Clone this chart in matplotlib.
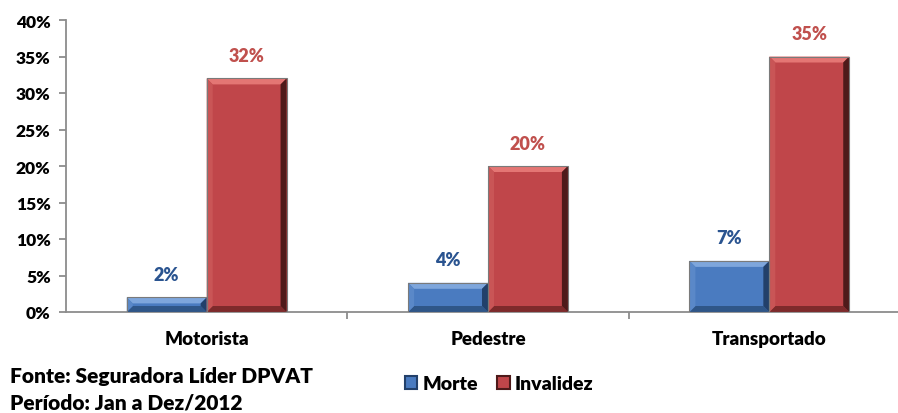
import numpy as np
import matplotlib.pyplot as plt
from matplotlib.patches import Polygon, Patch

categorias = ['Motorista', 'Pedestre', 'Transportado']
morte = [2, 4, 7]
invalidez = [32, 20, 35]
yticks = [0, 5, 10, 15, 20, 25, 30, 35, 40]

plt.rcParams['font.family'] = ['Lato', 'DejaVu Sans']
peso = 'heavy'

fig = plt.figure(figsize=(8.98, 4.14), dpi=100)
W, H = 898, 414
ax = fig.add_axes([66 / W, (414 - 313) / H, (910 - 66) / W, (313 - 21) / H])

x = np.arange(len(categorias))
w = 0.284
cores = {
    'morte': dict(face='#4a7bc0', top='#7ea6dc', left='#5a88c8', right='#22406a', bottom='#2f5688'),
    'inv': dict(face='#c0464a', top='#e47674', left='#c95556', right='#4e1a1a', bottom='#7e2a2b'),
}


def bevel(ax, x0, x1, h, c, px=6):
    # bevel size in data units
    inv = ax.transData.inverted()
    p0 = inv.transform(ax.transData.transform((x0, 0)))
    p1 = inv.transform(ax.transData.transform((x0, 0)) + np.array([px, px]))
    dx, dy = p1[0] - p0[0], p1[1] - p0[1]
    dy = min(dy, h / 2)
    ax.add_patch(Polygon([(x0, 0), (x1, 0), (x1, h), (x0, h)], closed=True,
                         fc=c['face'], lw=0, zorder=2))
    ix0, ix1, iy0, iy1 = x0 + dx, x1 - dx, dy, h - dy
    ax.add_patch(Polygon([(x0, h), (x1, h), (ix1, iy1), (ix0, iy1)], fc=c['top'], lw=0, zorder=3))
    ax.add_patch(Polygon([(x0, 0), (x1, 0), (ix1, iy0), (ix0, iy0)], fc=c['bottom'], lw=0, zorder=3))
    ax.add_patch(Polygon([(x0, 0), (x0, h), (ix0, iy1), (ix0, iy0)], fc=c['left'], lw=0, zorder=3))
    ax.add_patch(Polygon([(x1, 0), (x1, h), (ix1, iy1), (ix1, iy0)], fc=c['right'], lw=0, zorder=3))
    ax.add_patch(Polygon([(x0, 0), (x1, 0), (x1, h), (x0, h)], closed=True,
                         fc='none', ec='#7a7a7a', lw=0.8, zorder=4))


ax.set_xlim(-0.5, 2.5)
ax.set_ylim(0, 40)

for i in range(len(categorias)):
    bevel(ax, x[i] - w, x[i], morte[i], cores['morte'])
    bevel(ax, x[i], x[i] + w, invalidez[i], cores['inv'])
    ax.annotate(f'{morte[i]}%', (x[i] - w / 2, morte[i]), xytext=(0, 16.5), textcoords='offset points',
                ha='center', va='center', color='#2a5490', fontsize=13, fontweight=peso)
    ax.annotate(f'{invalidez[i]}%', (x[i] + w / 2, invalidez[i]), xytext=(0, 16.5), textcoords='offset points',
                ha='center', va='center', color='#c0504d', fontsize=13, fontweight=peso)

for s in ['top', 'right']:
    ax.spines[s].set_visible(False)
for s in ['left', 'bottom']:
    ax.spines[s].set_color('#8c8c8c')
    ax.spines[s].set_linewidth(1.3)

ax.set_yticks(yticks)
ax.set_yticklabels([f'{t}%' for t in yticks], fontsize=12.5, fontweight=peso)
ax.set_xticks(x)
ax.set_xticklabels(categorias, fontsize=13.5, fontweight=peso)
ax.set_xticks([0.5, 1.5], minor=True)
ax.tick_params(axis='x', which='major', length=0, pad=13)
ax.tick_params(axis='x', which='minor', length=5, color='#8c8c8c', width=1.3)
ax.tick_params(axis='y', length=5, color='#8c8c8c', width=1.3, pad=6)

fig.text(10 / W, 1 - 377 / H, 'Fonte: Seguradora Líder DPVAT', fontsize=15, fontweight=peso, va='center')
fig.text(10 / W, 1 - 403 / H, 'Período: Jan a Dez/2012', fontsize=15, fontweight=peso, va='center')

handles = [Patch(fc=cores['morte']['face'], ec=cores['morte']['right'], lw=1.5),
           Patch(fc=cores['inv']['face'], ec=cores['inv']['right'], lw=1.5)]
fig.legend(handles, ['Morte', 'Invalidez'], loc='center', bbox_to_anchor=(499 / W, 1 - 385 / H),
           ncol=2, frameon=False, handlelength=0.65, handleheight=0.65,
           handletextpad=0.25, columnspacing=1.0, prop={'weight': peso, 'size': 14})

fig.savefig('out.png', dpi=100)
